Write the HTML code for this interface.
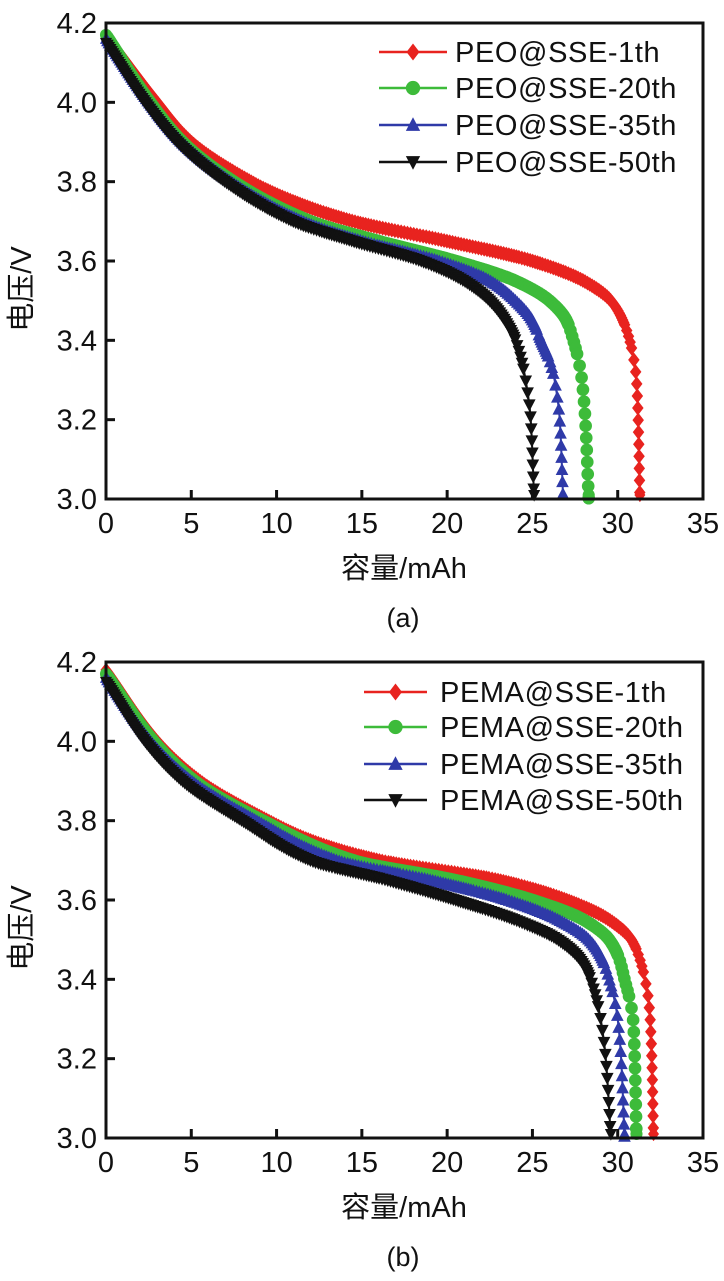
<!DOCTYPE html>
<html><head><meta charset="utf-8"><style>
body{margin:0;background:#fff}
svg{display:block}
text{font-family:"Liberation Sans","Noto Sans CJK SC",sans-serif;fill:#111}
</style></head><body>
<svg id="fig" width="724" height="1281" viewBox="0 0 724 1281"></svg>
<script>
const xTicks=[0,5,10,15,20,25,30,35];
const yTicks=[3.0,3.2,3.4,3.6,3.8,4.0,4.2];
const seriesColors=["#e8231f","#3dbb3a","#2f3aa8","#111111"];
const seriesMarkers=["diamond","circle","tri-up","tri-down"];
const namesA=["PEO@SSE-1th","PEO@SSE-20th","PEO@SSE-35th","PEO@SSE-50th"];
const namesB=["PEMA@SSE-1th","PEMA@SSE-20th","PEMA@SSE-35th","PEMA@SSE-50th"];
// panel a
const a1x=[0,3,5,8.5,11,14.5,20,25,28,29.6,30.3,30.7,30.95,31.1,31.2,31.3];
const a1y=[4.17,4.0,3.9,3.8,3.75,3.7,3.65,3.6,3.55,3.5,3.45,3.4,3.35,3.3,3.2,3.0];
const a2x=[0,2.6,4.5,7.5,12,16,20.5,24,26,27,27.4,27.7,27.9,28.1,28.3];
const a2y=[4.17,4.0,3.9,3.8,3.7,3.65,3.6,3.55,3.5,3.45,3.4,3.35,3.3,3.2,3.0];
const a3x=[0,2.5,4.4,7.3,11.5,15,19.5,22.5,24,25,25.5,26,26.3,26.6,26.8];
const a3y=[4.16,4.0,3.9,3.8,3.7,3.65,3.6,3.55,3.5,3.45,3.4,3.35,3.3,3.2,3.0];
const a4x=[0,2.3,4.2,7,11,14.5,18.5,21,22.5,23.4,24,24.35,24.6,24.9,25.1];
const a4y=[4.15,4.0,3.9,3.8,3.7,3.65,3.6,3.55,3.5,3.45,3.4,3.35,3.3,3.2,3.0];
// panel b
const b1x=[0,3,5.5,9.5,12,16,23,27,29.5,30.8,31.3,31.6,31.8,31.9,32.0,32.1];
const b1y=[4.18,4.0,3.9,3.8,3.75,3.7,3.65,3.6,3.55,3.5,3.45,3.4,3.35,3.3,3.2,3.0];
const b2x=[0,2.8,5.2,9.2,14.5,20.5,25,28,29.5,30.1,30.4,30.7,30.9,31.0,31.1];
const b2y=[4.17,4.0,3.9,3.8,3.7,3.65,3.6,3.55,3.5,3.45,3.4,3.35,3.3,3.2,3.0];
const b3x=[0,2.6,5,8.8,13.5,19,23.5,26.5,28.3,29.1,29.5,29.8,30,30.2,30.4];
const b3y=[4.16,4.0,3.9,3.8,3.7,3.65,3.6,3.55,3.5,3.45,3.4,3.35,3.3,3.2,3.0];
const b4x=[0,2.3,4.5,8,12,16.5,20.5,24,26.5,27.8,28.4,28.75,29,29.3,29.6];
const b4y=[4.15,4.0,3.9,3.8,3.7,3.65,3.6,3.55,3.5,3.45,3.4,3.35,3.3,3.2,3.0];

const NS="http://www.w3.org/2000/svg";
const svg=document.getElementById("fig");
function mk(tag,attrs,parent){const e=document.createElementNS(NS,tag);for(const k in attrs)e.setAttribute(k,attrs[k]);(parent||svg).appendChild(e);return e;}

function marker(g,type,cx,cy,color,s){
  if(type==="circle") return mk("circle",{cx:cx,cy:cy,r:s*0.55,fill:color},g);
  if(type==="diamond") return mk("polygon",{points:`${cx},${cy-s*0.65} ${cx+s*0.5},${cy} ${cx},${cy+s*0.65} ${cx-s*0.5},${cy}`,fill:color},g);
  if(type==="tri-up") return mk("polygon",{points:`${cx},${cy-s*0.6} ${cx+s*0.55},${cy+s*0.45} ${cx-s*0.55},${cy+s*0.45}`,fill:color},g);
  return mk("polygon",{points:`${cx},${cy+s*0.6} ${cx+s*0.55},${cy-s*0.45} ${cx-s*0.55},${cy-s*0.45}`,fill:color},g);
}

function monotone(ys,xs){
  const n=ys.length,d=[],m=new Array(n);
  for(let i=0;i<n-1;i++)d.push((xs[i+1]-xs[i])/(ys[i+1]-ys[i]));
  m[0]=d[0];m[n-1]=d[n-2];
  for(let i=1;i<n-1;i++){m[i]=(d[i-1]*d[i]<=0)?0:(2/(1/d[i-1]+1/d[i]));}
  return function(y){
    let i=0;while(i<n-2&&y>ys[i+1])i++;
    const h=ys[i+1]-ys[i],t=(y-ys[i])/h,t2=t*t,t3=t2*t;
    return (2*t3-3*t2+1)*xs[i]+(t3-2*t2+t)*h*m[i]+(-2*t3+3*t2)*xs[i+1]+(t3-t2)*h*m[i+1];
  };
}

function panel(id,L,R,T,B,xs,ys,names,leg,label){
  const g=mk("g",{});
  
  
  const X=v=>L+(v-0)/35*(R-L);
  const Y=v=>B-(v-3.0)/1.2*(B-T);
  for(let s=0;s<4;s++){
    const sg=mk("g",{},g);
    
    
    const yy=ys[s].slice().reverse(), xx=xs[s].slice().reverse();
    const f=monotone(yy,xx);
    const y0=yy[0],y1=yy[yy.length-1];
    const pts=[];
    const N=3000;
    for(let k=0;k<=N;k++){const v=y1-(y1-y0)*k/N;pts.push([X(f(v)),Y(v)]);}
    const pl=mk("polyline",{points:pts.map(p=>p[0].toFixed(1)+","+p[1].toFixed(1)).join(" "),fill:"none",stroke:seriesColors[s],"stroke-width":2},sg);
    
    
    let acc=0,prev=pts[0];
    marker(sg,seriesMarkers[s],prev[0],prev[1],seriesColors[s],11);
    for(let k=1;k<pts.length;k++){
      const p=pts[k];
      const dx=p[0]-prev[0],dy=p[1]-prev[1];
      const dl=Math.hypot(dx,dy);
      const ang=Math.atan2(Math.abs(dy),Math.abs(dx)+1e-9);
      const step=ang>1.35?12:(ang>1.2?6:2.5);
      acc+=dl;
      if(acc>=step){acc=0;marker(sg,seriesMarkers[s],p[0],p[1],seriesColors[s],11.5);}
      prev=p;
    }
    const last=pts[pts.length-1];
    marker(sg,seriesMarkers[s],last[0],last[1]-4,seriesColors[s],11);
  }
  const fr=mk("rect",{x:L,y:T,width:R-L,height:B-T,fill:"none",stroke:"#111","stroke-width":3},g);
  
  
  xTicks.forEach(v=>{
    mk("line",{x1:X(v),x2:X(v),y1:B,y2:B-9,stroke:"#111","stroke-width":3},g);
    const t=mk("text",{x:X(v),y:B+34,"text-anchor":"middle","font-size":29},g);
    t.textContent=v;
    
    
  });
  yTicks.forEach(v=>{
    mk("line",{x1:L,x2:L+9,y1:Y(v),y2:Y(v),stroke:"#111","stroke-width":3},g);
    const t=mk("text",{x:L-9,y:Y(v)+10,"text-anchor":"end","font-size":29},g);
    t.textContent=v.toFixed(1);
    
    
  });
  const xt=mk("text",{x:404,y:B+79,"text-anchor":"middle","font-size":29},g);
  xt.textContent="容量/mAh";
  
  
  const cy=(T+B)/2+28;
  const yt=mk("text",{x:0,y:0,"text-anchor":"middle","font-size":29,transform:`translate(31,${cy}) rotate(-90)`},g);
  yt.textContent="电压/V";
  
  
  const pl=mk("text",{x:403,y:B+128,"text-anchor":"middle","font-size":27},g);
  pl.textContent=label;
  
  
  for(let s=0;s<4;s++){
    const lg=mk("g",{},g);
    
    
    const y=leg.ys[s];
    mk("line",{x1:leg.x1,x2:leg.x2,y1:y,y2:y,stroke:seriesColors[s],"stroke-width":2.5},lg);
    marker(lg,seriesMarkers[s],(leg.x1+leg.x2)/2,y,seriesColors[s],13);
    const t=mk("text",{x:leg.tx,y:y+10,"font-size":29,"letter-spacing":"0.6"},lg);
    t.textContent=names[s];
  }
}
panel("panel-a",106,703,23,499,[a1x,a2x,a3x,a4x],[a1y,a2y,a3y,a4y],namesA,{x1:379,x2:447,tx:455,ys:[52,88,125,162]},"(a)");
panel("panel-b",106,703,662,1138,[b1x,b2x,b3x,b4x],[b1y,b2y,b3y,b4y],namesB,{x1:364,x2:427,tx:440,ys:[692,727,764,800]},"(b)");
</script>
</body></html>
